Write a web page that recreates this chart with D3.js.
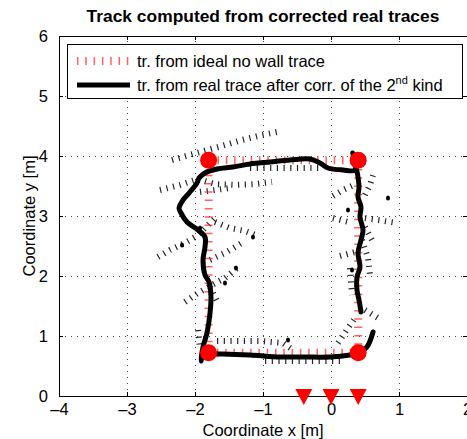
<!DOCTYPE html>
<html>
<head>
<meta charset="utf-8">
<script src="https://cdn.jsdelivr.net/npm/d3@7/dist/d3.min.js"></script>
<style>
  html, body { margin: 0; padding: 0; background: #fff; }
  svg { display: block; font-family: Arial, "Liberation Sans", Helvetica, sans-serif; }
</style>
</head>
<body>
<svg id="chart" width="467" height="439"></svg>
<script>
// Axis ticks
const xTicks = [-4, -3, -2, -1, 0, 1, 2];
const yTicks = [0, 1, 2, 3, 4, 5, 6];

// Room corners (reference points)
const cornerX = [-1.8, 0.4];
const cornerY = [0.72, 3.93];

// Ideal no-wall trace (closed rectangle through the corners)
const idealX = [-1.8, 0.4, 0.4, -1.8, -1.8];
const idealY = [0.72, 0.72, 3.93, 3.93, 0.72];

// Anchor positions on the floor line
const anchorX = [-0.4, 0, 0.4];

// Track from real trace after correction of the 2nd kind
const trackX = [0.618, 0.529, 0.412, 0.279, -0.015, -0.412, -0.75, -1.191, -1.588, -1.735, -1.88, -1.912,
  -1.882, -1.824, -1.779, -1.765, -1.794, -1.853, -1.882, -1.853, -1.853, -1.956, -2.118, -2.206, -2.235,
  -2.176, -2.074, -1.971, -1.941, -1.853, -1.676, -1.441, -1.191, -0.897, -0.603, -0.309, -0.162, -0.044,
  0.176, 0.353, 0.32, 0.38, 0.397, 0.412, 0.397, 0.441, 0.426, 0.471, 0.441, 0.397, 0.426, 0.382, 0.382,
  0.412, 0.441];
const trackY = [1.067, 0.817, 0.717, 0.683, 0.65, 0.65, 0.65, 0.683, 0.70, 0.70, 0.68, 0.583,
  0.817, 1.05, 1.383, 1.65, 1.90, 2.017, 2.267, 2.483, 2.65, 2.767, 2.90, 3.05, 3.133,
  3.267, 3.40, 3.55, 3.633, 3.717, 3.783, 3.817, 3.867, 3.90, 3.933, 3.95, 3.883, 3.80,
  3.767, 3.767, 4.05, 3.75, 3.65, 3.483, 3.317, 3.15, 2.983, 2.767, 2.60, 2.383, 2.15, 1.983, 1.767,
  1.60, 1.40];

// Raw trace fragments, each as [x, y] pairs
const rawTraces = [
  [[-2.338, 3.933], [-1.926, 4.067], [-1.603, 4.167], [-1.309, 4.267], [-1.015, 4.35], [-0.721, 4.417]],
  [[-1.191, 3.8], [-0.162, 3.8]],
  [[-2.515, 3.433], [-2.221, 3.517], [-1.956, 3.617], [-1.706, 3.533], [-1.412, 3.517], [-1.118, 3.533], [-0.868, 3.567]],
  [[-1.926, 3.4], [-1.485, 3.467]],
  [[-2.544, 2.317], [-2.368, 2.433], [-2.147, 2.55], [-1.971, 2.667], [-1.824, 2.833], [-1.706, 2.967]],
  [[-1.706, 2.9], [-1.485, 2.8], [-1.265, 2.75], [-1.074, 2.667]],
  [[-1.779, 2.267], [-1.559, 2.383], [-1.265, 2.583]],
  [[-2.147, 1.567], [-1.956, 1.717], [-1.75, 1.85], [-1.559, 1.967], [-1.382, 2.133]],
  [[-1.779, 1.817], [-1.662, 1.55]],
  [[-1.956, 1.1], [-1.926, 0.767]],
  [[-1.676, 0.917], [-1.044, 0.917], [-0.706, 0.883], [-0.559, 0.767]],
  [[-0.97, 0.583], [0.206, 0.583]],
  [[0.103, 0.883], [0.25, 1.133], [0.353, 1.3]],
  [[0.5, 1.433], [0.691, 1.3]],
  [[0.279, 2.133], [0.309, 1.683]],
  [[0.132, 2.333], [0.353, 2.4]],
  [[0.456, 2.6], [0.544, 2.3], [0.574, 2.017]],
  [[0.029, 3.333], [0.176, 3.433], [0.309, 3.5]],
  [[0.5, 3.35], [0.574, 3.517], [0.618, 3.683]],
  [[0.029, 2.967], [0.309, 2.883]],
  [[0.5, 2.967], [0.971, 2.883]],
  [[0.5, 2.817], [0.603, 2.6]]
];

// Isolated raw trace samples
const blobX = [-2.191, -1.926, -1.147, -1.397, -1.559, 0.25, 0.838, -0.632, 0.309];
const blobY = [2.517, 2.8, 2.65, 2.133, 1.883, 3.1, 3.3, 0.933, 2.1];

const svg = d3.select("#chart");
const x = d3.scaleLinear().domain([-4, 2]).range([59, 467]);
const y = d3.scaleLinear().domain([0, 6]).range([396, 36]);
const FS = 16.5;
const FONT = "Arial, 'Liberation Sans', sans-serif";

// Grid
const grid = svg.append("g").attr("stroke", "#444").attr("stroke-width", 1).attr("stroke-dasharray", "1 5");
grid.selectAll("line.gx").data(xTicks.slice(1, -1)).join("line")
  .attr("x1", d => x(d) + 0.5).attr("x2", d => x(d) + 0.5).attr("y1", y(0)).attr("y2", y(6));
grid.selectAll("line.gy").data(yTicks.slice(1, -1)).join("line")
  .attr("y1", d => y(d) + 0.5).attr("y2", d => y(d) + 0.5).attr("x1", x(-4)).attr("x2", x(2));

// Axes with inward ticks
const fmt = d => d < 0 ? "\u2013" + Math.abs(d) : String(d);
const axB = svg.append("g").attr("transform", `translate(0,${y(0)})`)
  .call(d3.axisBottom(x).tickValues(xTicks).tickSize(-4).tickPadding(7).tickFormat(fmt));
const axT = svg.append("g").attr("transform", `translate(0,${y(6)})`)
  .call(d3.axisTop(x).tickValues(xTicks).tickSize(-4).tickFormat(""));
const axL = svg.append("g").attr("transform", `translate(${x(-4)},0)`)
  .call(d3.axisLeft(y).tickValues(yTicks).tickSize(-4).tickPadding(11).tickFormat(fmt));
const axR = svg.append("g").attr("transform", `translate(${x(2)},0)`)
  .call(d3.axisRight(y).tickValues(yTicks).tickSize(-4).tickFormat(""));
[axB, axT, axL, axR].forEach(a => {
  a.select(".domain").attr("stroke", "#000").attr("stroke-width", 1);
  a.selectAll(".tick line").attr("stroke", "#000");
  a.selectAll("text").attr("font-size", FS).attr("font-family", FONT).attr("fill", "#000");
});

// Raw trace fragments as thick dotted lines
const line = d3.line().x(d => x(d[0])).y(d => y(d[1]));
svg.append("g").selectAll("path").data(rawTraces).join("path")
  .attr("d", line).attr("fill", "none").attr("stroke", "#000").attr("stroke-width", 6)
  .attr("stroke-dasharray", "1.2 5.5").attr("opacity", 0.85);
svg.append("g").selectAll("ellipse").data(blobX.map((v, i) => [v, blobY[i]])).join("ellipse")
  .attr("cx", d => x(d[0])).attr("cy", d => y(d[1])).attr("rx", 2).attr("ry", 2.6).attr("fill", "#000");

// Ideal trace
const ideal = idealX.map((v, i) => [v, idealY[i]]);
svg.append("path").attr("d", line(ideal)).attr("fill", "none")
  .attr("stroke", "#ff2020").attr("stroke-width", 8).attr("stroke-dasharray", "1.5 6.8").attr("opacity", 0.7);

// Corrected track
const track = trackX.map((v, i) => [v, trackY[i]]);
svg.append("path").attr("d", d3.line().curve(d3.curveCatmullRom).x(d => x(d[0])).y(d => y(d[1]))(track))
  .attr("fill", "none").attr("stroke", "#000").attr("stroke-width", 5)
  .attr("stroke-linejoin", "round").attr("stroke-linecap", "round");

// Corner markers
const corners = [];
cornerX.forEach(cx => cornerY.forEach(cy => corners.push([cx, cy])));
svg.append("g").selectAll("circle").data(corners).join("circle")
  .attr("cx", d => x(d[0])).attr("cy", d => y(d[1])).attr("r", 8.5).attr("fill", "#ff0000");

// Anchor markers (downward triangles)
svg.append("g").selectAll("path").data(anchorX).join("path")
  .attr("d", d => { const cx = x(d), cy = y(0); return `M${cx - 8.5},${cy - 7}L${cx + 8.5},${cy - 7}L${cx},${cy + 9}Z`; })
  .attr("fill", "#ff0000");

// Title and axis labels
svg.append("text").attr("x", 263).attr("y", 22).attr("text-anchor", "middle").attr("font-family", FONT)
  .attr("font-size", 17.4).attr("font-weight", "bold").text("Track computed from corrected real traces");
svg.append("text").attr("x", 263).attr("y", 436).attr("text-anchor", "middle").attr("font-family", FONT)
  .attr("font-size", FS).text("Coordinate x [m]");
svg.append("text").attr("transform", "translate(35,216) rotate(-90)").attr("text-anchor", "middle").attr("font-family", FONT)
  .attr("font-size", FS).text("Coordinate y [m]");

// Legend
const lg = svg.append("g").attr("font-family", FONT);
lg.append("rect").attr("x", 67.5).attr("y", 44.5).attr("width", 395).attr("height", 54)
  .attr("fill", "#fff").attr("stroke", "#000").attr("stroke-width", 1);
lg.append("line").attr("x1", 77).attr("x2", 130).attr("y1", 61).attr("y2", 61)
  .attr("stroke", "#ff2020").attr("stroke-width", 8).attr("stroke-dasharray", "1.5 6.8").attr("opacity", 0.7);
lg.append("line").attr("x1", 77).attr("x2", 130).attr("y1", 85).attr("y2", 85)
  .attr("stroke", "#000").attr("stroke-width", 5);
lg.append("text").attr("x", 137).attr("y", 67).attr("font-size", FS).text("tr. from ideal no wall trace");
const t2 = lg.append("text").attr("x", 137).attr("y", 91).attr("font-size", FS);
t2.append("tspan").text("tr. from real trace after corr. of the 2");
t2.append("tspan").attr("font-size", 11).attr("dy", -7).text("nd");
t2.append("tspan").attr("dy", 7).text(" kind");
</script>
</body>
</html>
